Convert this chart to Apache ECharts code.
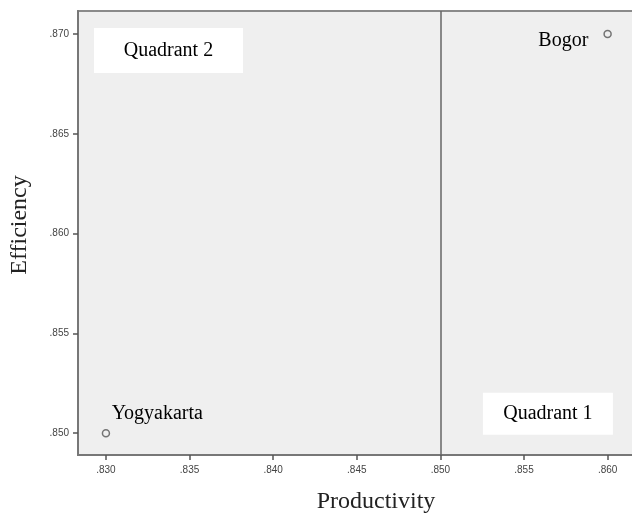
<!DOCTYPE html>
<html>
<head>
<meta charset="utf-8">
<script src="https://cdn.jsdelivr.net/npm/echarts@6/dist/echarts.min.js"></script>
<style>
  html, body { margin: 0; padding: 0; background: #fff; }
  #chart { width: 632px; height: 513px; }
</style>
</head>
<body>
<div id="chart"></div>
<script>
// 数据
const cityNames = ['Bogor', 'Yogyakarta'];
const productivity = [0.860, 0.830];
const efficiency = [0.870, 0.850];
const xTicks = [0.830, 0.835, 0.840, 0.845, 0.850, 0.855, 0.860];
const yTicks = [0.850, 0.855, 0.860, 0.865, 0.870];
const dividerX = 0.850;
const quadrantNames = ['Quadrant 2', 'Quadrant 1'];
const quadrantX = [0.83374, 0.85643];
const quadrantY = [0.86917, 0.85097];

const chart = echarts.init(document.getElementById('chart'));

function fmt(v) {
    return v.toFixed(3).replace(/^0/, '');
}

const serif = 'Liberation Serif';

const option = {
    animation: false,
    grid: {
        left: 78,
        top: 11,
        right: -42,
        bottom: 58,
        outerBoundsMode: 'none',
        containLabel: false,
        show: true,
        backgroundColor: '#efefef',
        borderColor: '#8a8a8a',
        borderWidth: 2
    },
    xAxis: {
        type: 'value',
        min: 0.82833,
        max: 0.86397,
        name: 'Productivity',
        nameLocation: 'middle',
        nameGap: 35,
        nameTextStyle: { fontFamily: serif, fontSize: 24, color: '#222' },
        splitLine: { show: false },
        axisLine: { show: true, lineStyle: { color: '#777', width: 2 } },
        axisTick: { show: true, length: 5, customValues: xTicks, lineStyle: { color: '#555', width: 1.5 } },
        axisLabel: {
            customValues: xTicks,
            formatter: fmt,
            fontFamily: 'Liberation Sans',
            fontSize: 10,
            color: '#444',
            margin: 10
        }
    },
    yAxis: {
        type: 'value',
        min: 0.84891,
        max: 0.87115,
        name: 'Efficiency',
        nameLocation: 'middle',
        nameGap: 46,
        nameTextStyle: { fontFamily: serif, fontSize: 24, color: '#222', padding: [0, 0, 0, 16] },
        splitLine: { show: false },
        axisLine: { show: true, lineStyle: { color: '#777', width: 2 } },
        axisTick: { show: true, length: 5, customValues: yTicks, lineStyle: { color: '#555', width: 1.5 } },
        axisLabel: {
            customValues: yTicks,
            formatter: fmt,
            fontFamily: 'Liberation Sans',
            fontSize: 10,
            color: '#444',
            margin: 9
        }
    },
    series: [
        {
            type: 'scatter',
            symbol: 'circle',
            symbolSize: 7,
            itemStyle: { color: '#efefef', borderColor: '#555', borderWidth: 1.5 },
            data: cityNames.map((n, i) => ({
                name: n,
                value: [productivity[i], efficiency[i]],
                label: i === 0
                    ? { position: 'left', distance: 15, offset: [0, 7] }
                    : { position: 'right', distance: 1.5, offset: [0, -19] }
            })),
            label: {
                show: true,
                formatter: '{b}',
                fontFamily: serif,
                fontSize: 20,
                color: '#000',
                textBorderWidth: 0,
                opacity: 1
            },
            emphasis: { disabled: true },
            markLine: {
                silent: true,
                symbol: ['none', 'none'],
                label: { show: false },
                lineStyle: { color: '#666', width: 1.5, type: 'solid' },
                data: [{ xAxis: dividerX }]
            },
            markPoint: {
                silent: true,
                symbol: 'rect',
                symbolSize: 0,
                data: quadrantNames.map((q, i) => ({
                    name: q,
                    coord: [quadrantX[i], quadrantY[i]],
                    label: {
                        show: true,
                        position: 'inside',
                        formatter: q,
                        width: i === 0 ? 149 : 130,
                        height: i === 0 ? 45 : 42,
                        lineHeight: i === 0 ? 45 : 42,
                        align: 'center',
                        verticalAlign: 'middle',
                        backgroundColor: '#fff',
                        fontFamily: serif,
                        fontSize: 20,
                        color: '#000'
                    }
                }))
            }
        }
    ]
};

chart.setOption(option);
</script>
</body>
</html>
